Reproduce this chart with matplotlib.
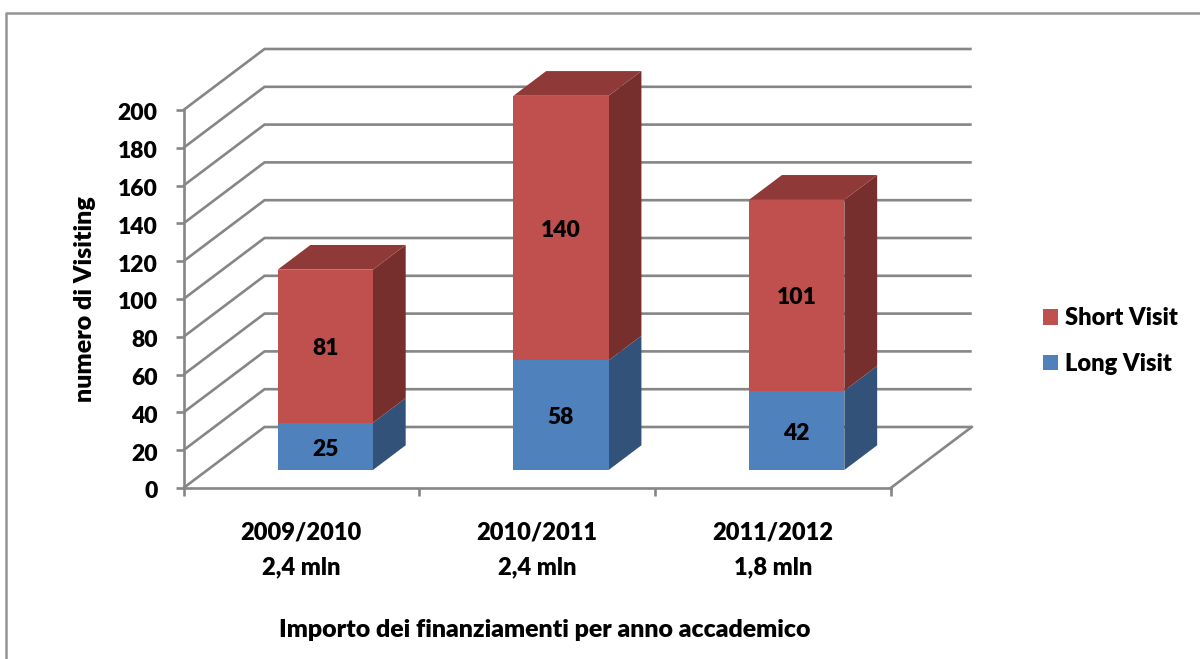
import matplotlib
matplotlib.use("Agg")
import matplotlib.pyplot as plt
from matplotlib.lines import Line2D
from matplotlib.patches import Patch, Polygon
from matplotlib.transforms import ScaledTranslation

categories = ["2009/2010\n2,4 mln", "2010/2011\n2,4 mln", "2011/2012\n1,8 mln"]
long_visit = [25, 58, 42]
short_visit = [81, 140, 101]
y_ticks = list(range(0, 201, 20))

W, H = 1200, 659
GRID = "#868686"
RED = ("#C0504D", "#8F3A38", "#772F2D")
BLUE = ("#4F81BD", "#3F6797", "#33527A")

# depth of the fake 3d box, in data units
DEPTH_X = 81 / 235.7
DEPTH_Y = 61 / 1.89
BAR_W = 0.404
BAR_NEAR = 0.295
BAR_FAR = 0.70

plt.rcParams["font.family"] = ["Lato", "DejaVu Sans"]
plt.rcParams["font.weight"] = "heavy"
plt.rcParams["font.size"] = 16


def project(x, value, depth):
    return (x + depth * DEPTH_X, value + depth * DEPTH_Y)


def draw_segment(ax, x, low, high, colors, top, z):
    left, right = x - BAR_W / 2, x + BAR_W / 2
    front = [project(left, low, BAR_NEAR), project(right, low, BAR_NEAR),
             project(right, high, BAR_NEAR), project(left, high, BAR_NEAR)]
    side = [project(right, low, BAR_NEAR), project(right, low, BAR_FAR),
            project(right, high, BAR_FAR), project(right, high, BAR_NEAR)]
    ax.add_patch(Polygon(side, fc=colors[2], ec="none", zorder=z, clip_on=False))
    ax.add_patch(Polygon(front, fc=colors[0], ec="none", zorder=z + 0.1, clip_on=False))
    if top:
        cap = [project(left, high, BAR_NEAR), project(right, high, BAR_NEAR),
               project(right, high, BAR_FAR), project(left, high, BAR_FAR)]
        ax.add_patch(Polygon(cap, fc=colors[1], ec="none", zorder=z, clip_on=False))
    cx, cy = project(x, (low + high) / 2, BAR_NEAR)
    ax.annotate(str(high - low), (cx, cy), xytext=(0, -2), textcoords="offset points",
                ha="center", va="center", zorder=z + 1, fontsize=16.5)


fig = plt.figure(figsize=(W / 100, H / 100), dpi=100)
ax = fig.add_axes([183.5 / W, 1 - 488 / H, 707.2 / W, 378 / H])
ax.set_xlim(0, 3)
ax.set_ylim(0, 200)
ax.patch.set_visible(False)

for name in ["top", "right"]:
    ax.spines[name].set_visible(False)
for name in ["left", "bottom"]:
    ax.spines[name].set_color(GRID)
    ax.spines[name].set_linewidth(1.9)
    ax.spines[name].set_zorder(1.5)

# side wall and back wall lines
for v in y_ticks:
    x0, y0 = project(0, v, 0)
    x1, y1 = project(0, v, 1)
    x2, y2 = project(3, v, 1)
    ax.plot([x0, x1, x2], [y0, y1, y2], color=GRID, lw=1.9, zorder=1,
            clip_on=False, solid_joinstyle="miter", solid_capstyle="butt")
fx, fy = project(3, 0, 0)
bx, by = project(3, 0, 1)
ax.plot([fx, bx], [fy, by], color=GRID, lw=1.9, zorder=1, clip_on=False)

positions = [i + 0.5 for i in range(len(categories))]
for x, lv, sv in zip(positions, long_visit, short_visit):
    draw_segment(ax, x, 0, lv, BLUE, False, 3)
    draw_segment(ax, x, lv, lv + sv, RED, True, 4)

ax.set_yticks(y_ticks)
ax.tick_params(axis="y", length=6, width=1.9, color=GRID, pad=12.5, labelsize=16.5)
shift = ScaledTranslation(0, -1.3 / 72, fig.dpi_scale_trans)
for label in ax.get_yticklabels():
    label.set_transform(label.get_transform() + shift)
ax.set_xticks(range(4))
ax.set_xticklabels([])
ax.tick_params(axis="x", which="major", length=6, width=1.9, color=GRID)
ax.set_xticks(positions, minor=True)
ax.set_xticklabels(categories, minor=True, linespacing=1.7, fontsize=17)
ax.tick_params(axis="x", which="minor", length=0, pad=24)

fig.text(85 / W, 1 - 299 / H, "numero di Visiting", rotation=90, ha="center", va="center", fontsize=18)
fig.text(545 / W, 1 - 630 / H, "Importo dei finanziamenti per anno accademico", ha="center", va="center", fontsize=17.9)

handles = [Patch(fc=RED[0], label="Short Visit"), Patch(fc=BLUE[0], label="Long Visit")]
fig.legend(handles=handles, loc="center left", bbox_to_anchor=(1036 / W, 1 - 341 / H),
           frameon=False, handlelength=0.65, handleheight=0.65, handletextpad=0.26,
           labelspacing=1.0, borderpad=0.3, borderaxespad=0, fontsize=17)

# chart area frame
fig.add_artist(Line2D([6 / W, 6 / W, 1], [0, 1 - 12.5 / H, 1 - 12.5 / H], color="#949494", lw=1.8))

fig.savefig("out.png", dpi=100)
